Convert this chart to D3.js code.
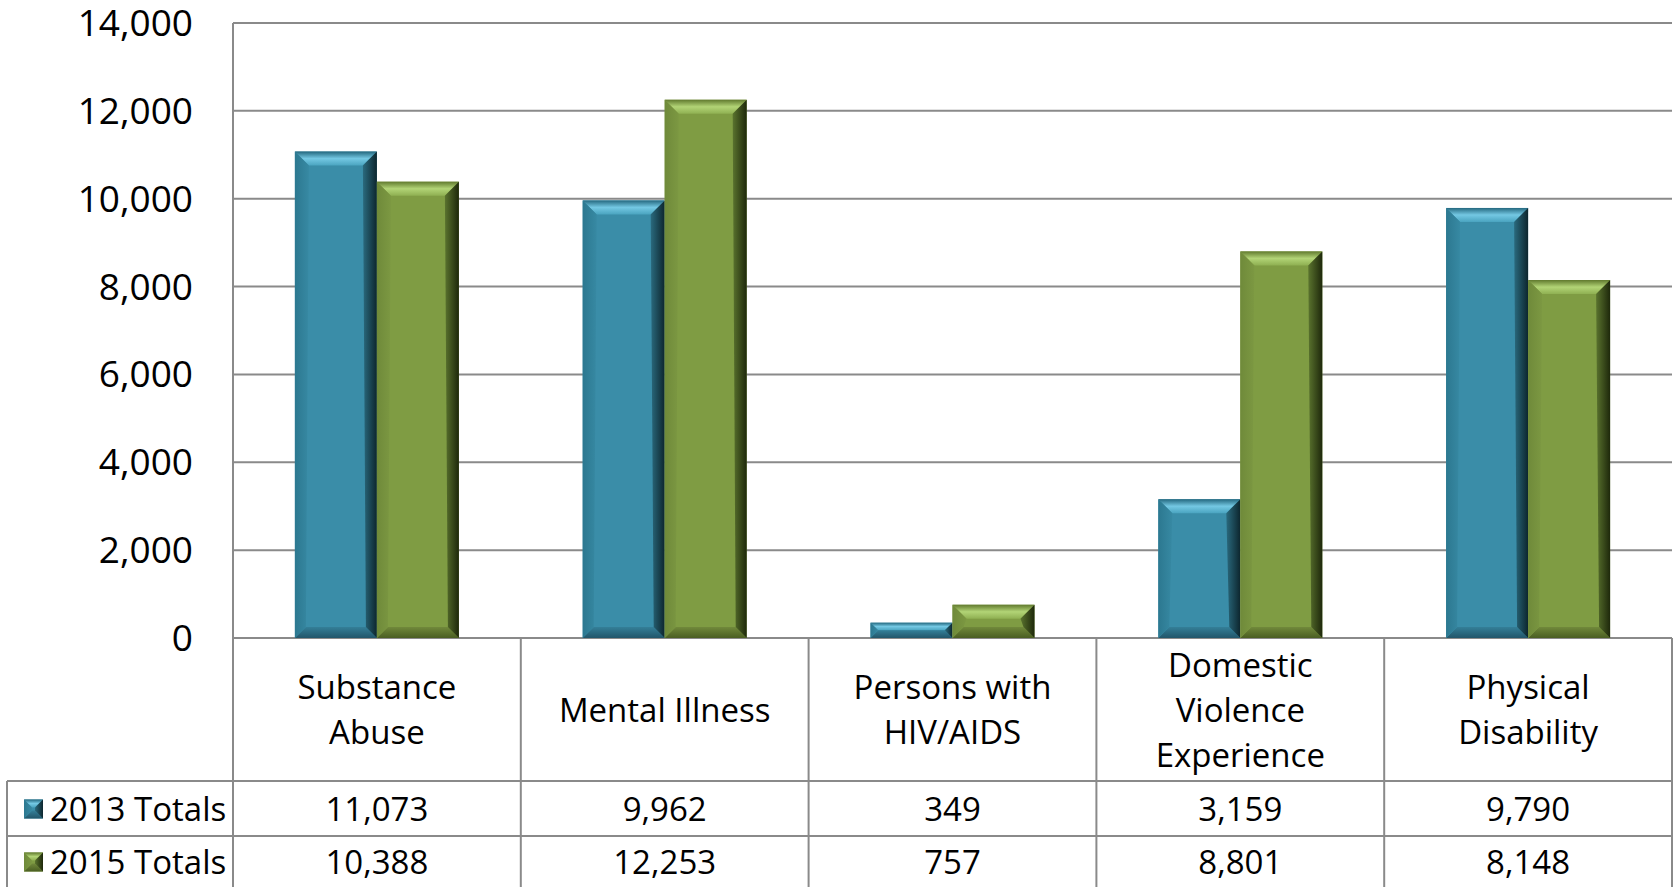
<!DOCTYPE html>
<html>
<head>
<meta charset="utf-8">
<script src="https://cdn.jsdelivr.net/npm/d3@7"></script>
<style>
  body { margin: 0; background: #ffffff; }
  text { font-family: "Open Sans", sans-serif; fill: #000; }
</style>
</head>
<body>
<div id="chart"></div>
<script>
// data
var categories = ["Substance Abuse", "Mental Illness", "Persons with HIV/AIDS", "Domestic Violence Experience", "Physical Disability"];
var categoryLines = [["Substance", "Abuse"], ["Mental Illness"], ["Persons with", "HIV/AIDS"], ["Domestic", "Violence", "Experience"], ["Physical", "Disability"]];
var seriesNames = ["2013 Totals", "2015 Totals"];
var totals2013 = [11073, 9962, 349, 3159, 9790];
var totals2015 = [10388, 12253, 757, 8801, 8148];
var yTicks = [0, 2000, 4000, 6000, 8000, 10000, 12000, 14000];

var width = 1673,
    height = 887,
    plotLeft = 233, plotRight = 1672,
    plotTop = 23, base = 638,
    catBottom = 781, row1Bottom = 836,
    legendLeft = 7;

var seriesData = [totals2013, totals2015];

var palette = [
  { front: "#3A8DA8", top: ["#24687f", "#74c8e3", "#4aa4c0"], left: ["#2c7890", "#3789a3"], right: ["#2a6a7e", "#0d262e"], bottom: ["#347f98", "#22566a"] },
  { front: "#7F9C43", top: ["#617a2e", "#b2d476", "#8fb052"], left: ["#6f8a3a", "#7c9842"], right: ["#5a732e", "#1e280b"], bottom: ["#71893b", "#4a5e22"] }
];

var svg = d3.select("#chart")
    .append("svg")
    .attr("width", width)
    .attr("height", height);

var defs = svg.append("defs");
function grad(id, stops, vertical) {
  var g = defs.append("linearGradient").attr("id", id)
      .attr("x1", 0).attr("y1", 0)
      .attr("x2", vertical ? 0 : 1).attr("y2", vertical ? 1 : 0);
  stops.forEach(function(c, i) {
    g.append("stop").attr("offset", (i / (stops.length - 1) * 100) + "%").attr("stop-color", c);
  });
}
palette.forEach(function(p, i) {
  grad("top" + i, p.top, true);
  grad("bottom" + i, p.bottom, true);
  grad("left" + i, p.left, false);
  grad("right" + i, p.right, false);
});

var y = d3.scaleLinear().domain([0, 14000]).range([base, plotTop]);

var x0 = d3.scaleBand().domain(categories).range([plotLeft, plotRight]).padding(0);
var x1 = d3.scaleBand().domain(seriesNames).range([0, x0.bandwidth()]).paddingInner(0).paddingOuter(0.755);

// gridlines
svg.append("g").selectAll("line")
  .data(yTicks)
  .enter().append("line")
    .attr("x1", plotLeft).attr("x2", plotRight)
    .attr("y1", function(d) { return y(d); })
    .attr("y2", function(d) { return y(d); })
    .attr("stroke", "#8a8a8a")
    .attr("stroke-width", 2);

// y labels
svg.append("g").selectAll("text")
  .data(yTicks)
  .enter().append("text")
    .attr("x", 193)
    .attr("y", function(d) { return y(d) + 13; })
    .attr("text-anchor", "end")
    .attr("font-size", 37)
    .text(function(d) { return d3.format(",")(d); });

// beveled box (b = side bevel, bb = bottom bevel)
function bevelBox(g, bx, by, w, h, b, bb, i) {
  var p = palette[i];
  var pts = function(a) { return a.map(function(q) { return q.join(","); }).join(" "); };
  g.append("rect").attr("x", bx).attr("y", by).attr("width", w).attr("height", h).attr("fill", p.front);
  g.append("polygon").attr("points", pts([[bx, by], [bx + w, by], [bx + w - b, by + b], [bx + b, by + b]])).attr("fill", "url(#top" + i + ")");
  g.append("polygon").attr("points", pts([[bx, by + h], [bx + bb, by + h - bb], [bx + w - bb, by + h - bb], [bx + w, by + h]])).attr("fill", "url(#bottom" + i + ")");
  g.append("polygon").attr("points", pts([[bx, by], [bx + b, by + b], [bx + bb, by + h - bb], [bx, by + h]])).attr("fill", "url(#left" + i + ")");
  g.append("polygon").attr("points", pts([[bx + w, by], [bx + w, by + h], [bx + w - bb, by + h - bb], [bx + w - b, by + b]])).attr("fill", "url(#right" + i + ")");
}

// bars
var barData = [];
categories.forEach(function(c, ci) {
  seriesNames.forEach(function(s, si) {
    barData.push({ cat: c, series: s, si: si, value: seriesData[si][ci] });
  });
});

var bars = svg.append("g");
barData.forEach(function(d) {
  var bx = x0(d.cat) + x1(d.series),
      w = x1.bandwidth(),
      by = y(d.value),
      h = base - by,
      b = Math.min(14, h / 2, w / 2),
      bb = Math.min(11, h / 2, w / 2);
  bevelBox(bars.append("g"), bx, by, w, h, b, bb, d.si);
});

// table lines
var grid = svg.append("g").attr("stroke", "#8a8a8a").attr("stroke-width", 2);
grid.append("line").attr("x1", plotLeft).attr("x2", plotLeft).attr("y1", plotTop).attr("y2", height);
categories.forEach(function(c) {
  grid.append("line").attr("x1", x0(c) + x0.bandwidth()).attr("x2", x0(c) + x0.bandwidth())
    .attr("y1", base).attr("y2", height);
});
[catBottom, row1Bottom].forEach(function(ry) {
  grid.append("line").attr("x1", legendLeft).attr("x2", plotRight).attr("y1", ry).attr("y2", ry);
});
grid.append("line").attr("x1", legendLeft).attr("x2", legendLeft).attr("y1", catBottom).attr("y2", height);

// category labels
var lineH = 45, catMid = (base + catBottom) / 2;
categories.forEach(function(c, ci) {
  var lines = categoryLines[ci];
  var t = svg.append("text")
      .attr("text-anchor", "middle")
      .attr("font-size", 33);
  lines.forEach(function(l, li) {
    t.append("tspan")
      .attr("x", x0(c) + x0.bandwidth() / 2)
      .attr("y", catMid + (li - (lines.length - 1) / 2) * lineH + 12)
      .text(l);
  });
});

// data table rows
var rowMid = [(catBottom + row1Bottom) / 2, (row1Bottom + height) / 2];
seriesNames.forEach(function(s, si) {
  var cy = rowMid[si];
  bevelBox(svg.append("g"), 24, cy - 9, 19, 19, 8, 8, si);
  svg.append("text")
    .attr("x", 50).attr("y", cy + 12)
    .attr("font-size", 33)
    .text(s);
  svg.append("g").selectAll("text")
    .data(seriesData[si])
    .enter().append("text")
      .attr("x", function(d, ci) { return x0(categories[ci]) + x0.bandwidth() / 2; })
      .attr("y", cy + 12)
      .attr("text-anchor", "middle")
      .attr("font-size", 33)
      .text(function(d) { return d3.format(",")(d); });
});
</script>
</body>
</html>
